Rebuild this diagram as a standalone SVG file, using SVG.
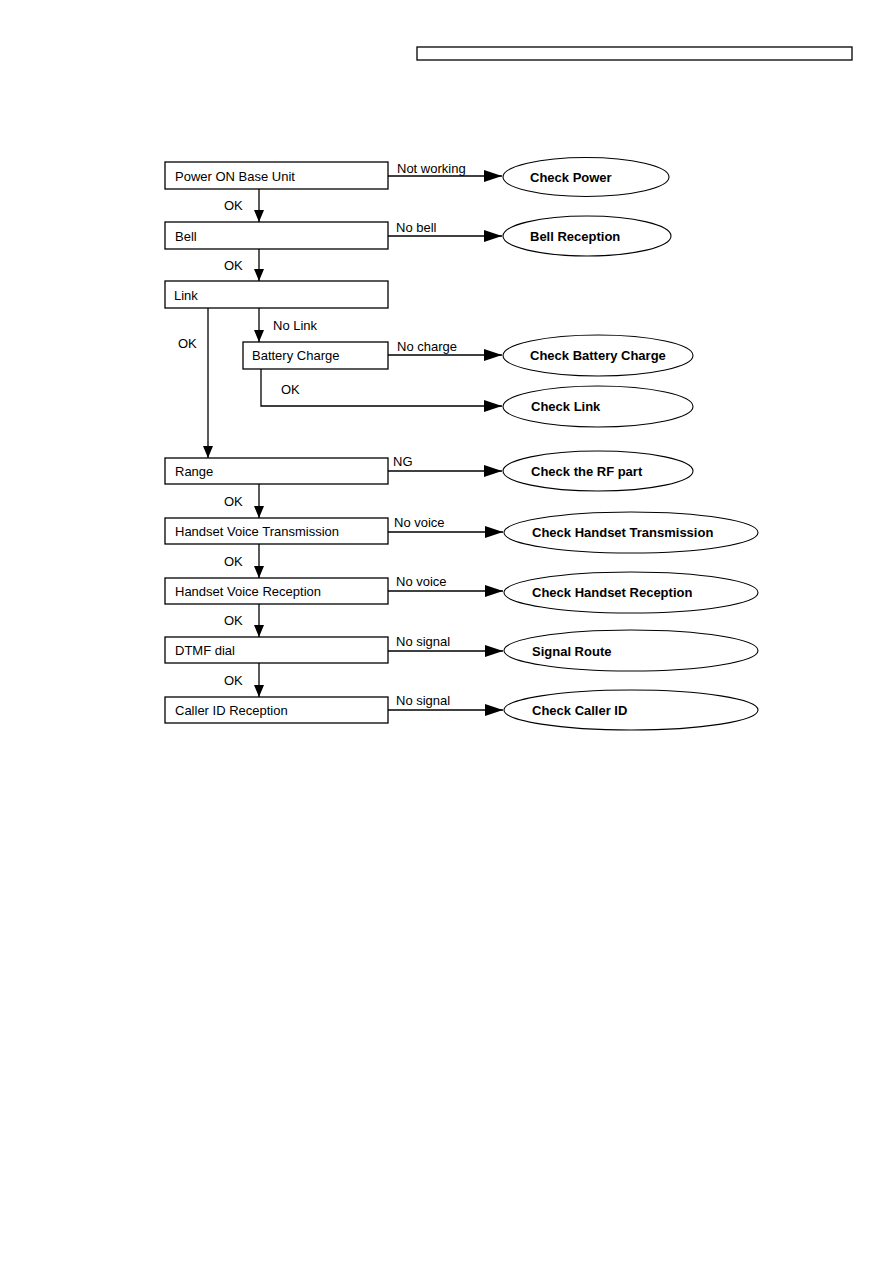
<svg xmlns="http://www.w3.org/2000/svg" width="893" height="1263" viewBox="0 0 893 1263">
<defs>
<marker id="ah" markerWidth="18" markerHeight="12" refX="18" refY="6" orient="auto" markerUnits="userSpaceOnUse">
<path d="M0,0 L18,6 L0,12 Z" fill="#000"/>
</marker>
<marker id="av" markerWidth="12" markerHeight="12" refX="12" refY="5" orient="auto" markerUnits="userSpaceOnUse">
<path d="M0,0 L12,5 L0,10 Z" fill="#000"/>
</marker>
<style>
.box{fill:#fff;stroke:#000;stroke-width:1.3}
.ell{fill:#fff;stroke:#000;stroke-width:1.1}
.t{font-family:"Liberation Sans",Arial,sans-serif;font-size:13px;fill:#000}
.b{font-family:"Liberation Sans",Arial,sans-serif;font-size:13px;font-weight:bold;fill:#000}
.c{fill:none;stroke:#000;stroke-width:1.3}
</style>
</defs>
<rect width="893" height="1263" fill="#fff"/>
<rect x="417" y="47" width="435" height="13" fill="#fff" stroke="#000" stroke-width="1.3"/>

<g id="connectors">
<line class="c" x1="388" y1="176" x2="502" y2="176" marker-end="url(#ah)"/>
<line class="c" x1="388" y1="236" x2="502" y2="236" marker-end="url(#ah)"/>
<line class="c" x1="388" y1="355" x2="502" y2="355" marker-end="url(#ah)"/>
<polyline class="c" points="261,369 261,406 502,406" marker-end="url(#ah)"/>
<line class="c" x1="388" y1="471" x2="502" y2="471" marker-end="url(#ah)"/>
<line class="c" x1="388" y1="532" x2="503" y2="532" marker-end="url(#ah)"/>
<line class="c" x1="388" y1="591" x2="503" y2="591" marker-end="url(#ah)"/>
<line class="c" x1="388" y1="651" x2="503" y2="651" marker-end="url(#ah)"/>
<line class="c" x1="388" y1="710" x2="503" y2="710" marker-end="url(#ah)"/>
<line class="c" x1="259" y1="189" x2="259" y2="222" marker-end="url(#av)"/>
<line class="c" x1="259" y1="249" x2="259" y2="281" marker-end="url(#av)"/>
<line class="c" x1="259" y1="308" x2="259" y2="342" marker-end="url(#av)"/>
<line class="c" x1="208" y1="308" x2="208" y2="458" marker-end="url(#av)"/>
<line class="c" x1="259" y1="484" x2="259" y2="518" marker-end="url(#av)"/>
<line class="c" x1="259" y1="544" x2="259" y2="578" marker-end="url(#av)"/>
<line class="c" x1="259" y1="604" x2="259" y2="637" marker-end="url(#av)"/>
<line class="c" x1="259" y1="663" x2="259" y2="697" marker-end="url(#av)"/>
<text class="t" x="397" y="173">Not working</text>
<text class="t" x="396" y="232">No bell</text>
<text class="t" x="397" y="351">No charge</text>
<text class="t" x="281" y="394">OK</text>
<text class="t" x="393" y="466">NG</text>
<text class="t" x="394" y="527">No voice</text>
<text class="t" x="396" y="586">No voice</text>
<text class="t" x="396" y="646">No signal</text>
<text class="t" x="396" y="705">No signal</text>
<text class="t" x="273" y="330">No Link</text>
<text class="t" x="178" y="348">OK</text>
<text class="t" x="224" y="210">OK</text>
<text class="t" x="224" y="270">OK</text>
<text class="t" x="224" y="506">OK</text>
<text class="t" x="224" y="566">OK</text>
<text class="t" x="224" y="625">OK</text>
<text class="t" x="224" y="685">OK</text>
</g>

<g id="n-power"><rect class="box" x="165" y="162" width="223" height="27"/><text class="t" x="175" y="181">Power ON Base Unit</text></g>
<g id="n-bell"><rect class="box" x="165" y="222" width="223" height="27"/><text class="t" x="175" y="241">Bell</text></g>
<g id="n-link"><rect class="box" x="165" y="281" width="223" height="27"/><text class="t" x="174" y="300">Link</text></g>
<g id="n-battery"><rect class="box" x="243" y="342" width="145" height="27"/><text class="t" x="252" y="360">Battery Charge</text></g>
<g id="n-range"><rect class="box" x="165" y="458" width="223" height="26"/><text class="t" x="175" y="476">Range</text></g>
<g id="n-hvt"><rect class="box" x="165" y="518" width="223" height="26"/><text class="t" x="175" y="536">Handset Voice Transmission</text></g>
<g id="n-hvr"><rect class="box" x="165" y="578" width="223" height="26"/><text class="t" x="175" y="596">Handset Voice Reception</text></g>
<g id="n-dtmf"><rect class="box" x="165" y="637" width="223" height="26"/><text class="t" x="175" y="655">DTMF dial</text></g>
<g id="n-cid"><rect class="box" x="165" y="697" width="223" height="26"/><text class="t" x="175" y="715">Caller ID Reception</text></g>

<g id="e-power"><ellipse class="ell" cx="586" cy="177" rx="83" ry="19.5"/><text class="b" x="530" y="182">Check Power</text></g>
<g id="e-bell"><ellipse class="ell" cx="587" cy="236" rx="84" ry="20"/><text class="b" x="530" y="241">Bell Reception</text></g>
<g id="e-battery"><ellipse class="ell" cx="598" cy="355.5" rx="95" ry="20.5"/><text class="b" x="530" y="360">Check Battery Charge</text></g>
<g id="e-link"><ellipse class="ell" cx="598" cy="406.5" rx="95" ry="20.5"/><text class="b" x="531" y="411">Check Link</text></g>
<g id="e-rf"><ellipse class="ell" cx="598" cy="471" rx="95" ry="20"/><text class="b" x="531" y="476">Check the RF part</text></g>
<g id="e-hvt"><ellipse class="ell" cx="631" cy="532.5" rx="127" ry="20.5"/><text class="b" x="532" y="537">Check Handset Transmission</text></g>
<g id="e-hvr"><ellipse class="ell" cx="631" cy="592.5" rx="127" ry="20.5"/><text class="b" x="532" y="597">Check Handset Reception</text></g>
<g id="e-dtmf"><ellipse class="ell" cx="631" cy="650.5" rx="127" ry="20.5"/><text class="b" x="532" y="656">Signal Route</text></g>
<g id="e-cid"><ellipse class="ell" cx="631" cy="710" rx="127" ry="20"/><text class="b" x="532" y="715">Check Caller ID</text></g>
</svg>
